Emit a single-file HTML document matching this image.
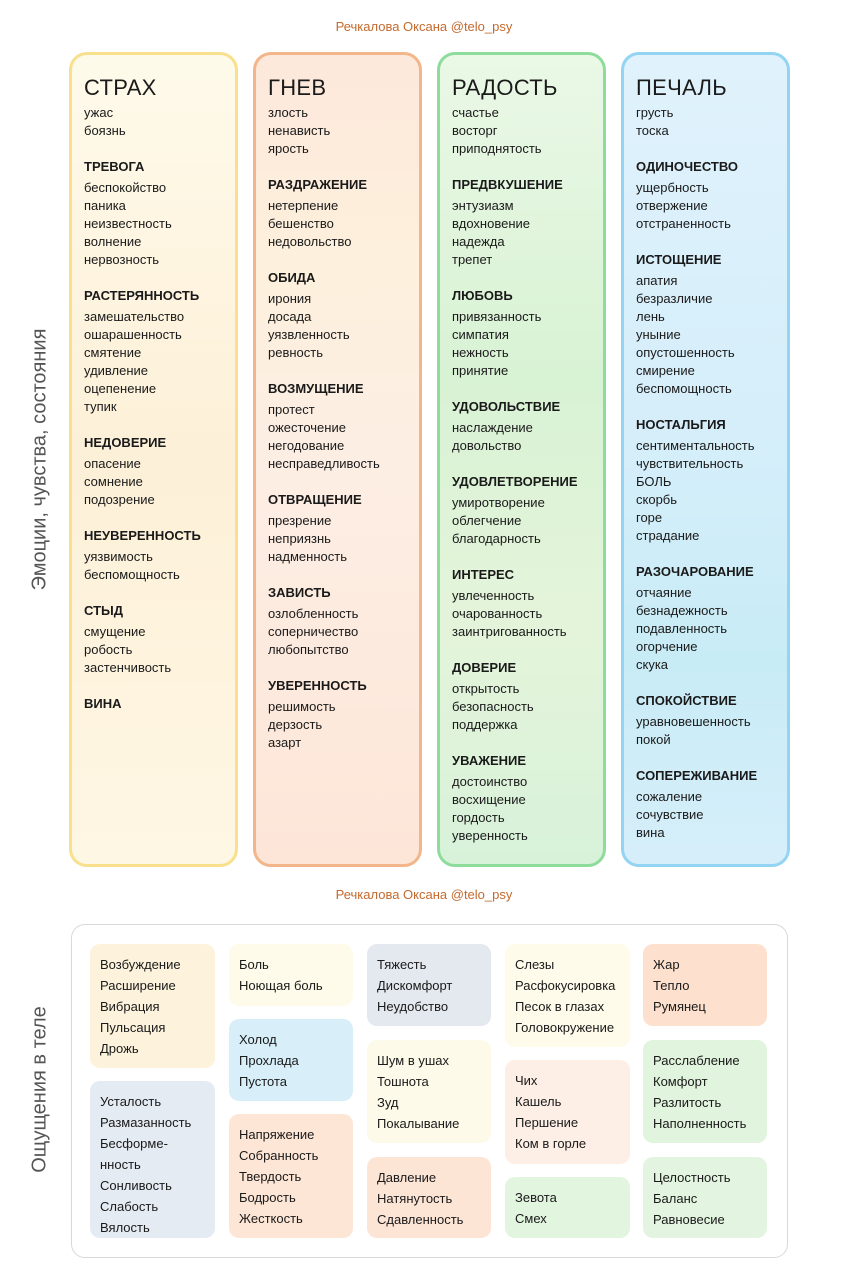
<!DOCTYPE html>
<html><head><meta charset="utf-8"><style>
body{margin:0;width:848px;height:1280px;background:#fff;position:relative;font-family:"Liberation Sans","DejaVu Sans",sans-serif;color:#1a1a1a;overflow:hidden}
.cr{position:absolute;left:0;width:848px;text-align:center;font-size:13px;color:#c46a2e}
.col{position:absolute;top:52px;width:163px;height:809px;border:3px solid;border-radius:18px;box-sizing:content-box}
.in{position:absolute;left:12px;top:21px;font-size:13px}
.t{font-size:22px;line-height:24px;margin-bottom:4px;letter-spacing:0.3px}
.i{line-height:18px}
.h{line-height:18px;margin-top:18px;margin-bottom:3px;font-weight:bold}
.vt{position:absolute;font-size:20px;color:#555;transform:rotate(-90deg);transform-origin:center;white-space:nowrap;text-align:center}
.frame{position:absolute;left:71px;top:924px;width:715px;height:332px;border:1px solid #d8d8d8;border-radius:14px}
.b{position:absolute;border-radius:10px;font-size:13px;line-height:21px;padding:10px 0 0 10px;box-sizing:border-box}
</style></head><body>
<div class="cr" style="top:19px">Речкалова Оксана @telo_psy</div>
<div class="vt" style="left:-110px;top:448px;width:300px">Эмоции, чувства, состояния</div>

<div class="col" style="left:69px;border-color:#f8e08c;background:linear-gradient(180deg,#fefaea,#fdf0d8 50%,#fef7e4)">
<div class="in"><div class="t">СТРАХ</div>
<div class="i">ужас</div><div class="i">боязнь</div>
<div class="h">ТРЕВОГА</div><div class="i">беспокойство</div><div class="i">паника</div><div class="i">неизвестность</div><div class="i">волнение</div><div class="i">нервозность</div>
<div class="h">РАСТЕРЯННОСТЬ</div><div class="i">замешательство</div><div class="i">ошарашенность</div><div class="i">смятение</div><div class="i">удивление</div><div class="i">оцепенение</div><div class="i">тупик</div>
<div class="h">НЕДОВЕРИЕ</div><div class="i">опасение</div><div class="i">сомнение</div><div class="i">подозрение</div>
<div class="h">НЕУВЕРЕННОСТЬ</div><div class="i">уязвимость</div><div class="i">беспомощность</div>
<div class="h">СТЫД</div><div class="i">смущение</div><div class="i">робость</div><div class="i">застенчивость</div>
<div class="h">ВИНА</div></div></div>

<div class="col" style="left:253px;border-color:#f2b68a;background:linear-gradient(180deg,#fde8dc,#fdf0dc 25%,#fdeee4 50%,#fde6d8)">
<div class="in"><div class="t">ГНЕВ</div>
<div class="i">злость</div><div class="i">ненависть</div><div class="i">ярость</div>
<div class="h">РАЗДРАЖЕНИЕ</div><div class="i">нетерпение</div><div class="i">бешенство</div><div class="i">недовольство</div>
<div class="h">ОБИДА</div><div class="i">ирония</div><div class="i">досада</div><div class="i">уязвленность</div><div class="i">ревность</div>
<div class="h">ВОЗМУЩЕНИЕ</div><div class="i">протест</div><div class="i">ожесточение</div><div class="i">негодование</div><div class="i">несправедливость</div>
<div class="h">ОТВРАЩЕНИЕ</div><div class="i">презрение</div><div class="i">неприязнь</div><div class="i">надменность</div>
<div class="h">ЗАВИСТЬ</div><div class="i">озлобленность</div><div class="i">соперничество</div><div class="i">любопытство</div>
<div class="h">УВЕРЕННОСТЬ</div><div class="i">решимость</div><div class="i">дерзость</div><div class="i">азарт</div></div></div>

<div class="col" style="left:437px;border-color:#8edc9c;background:linear-gradient(180deg,#eaf8e6,#d8f2d4 40%,#e4f4da 70%,#d8f2da)">
<div class="in"><div class="t">РАДОСТЬ</div>
<div class="i">счастье</div><div class="i">восторг</div><div class="i">приподнятость</div>
<div class="h">ПРЕДВКУШЕНИЕ</div><div class="i">энтузиазм</div><div class="i">вдохновение</div><div class="i">надежда</div><div class="i">трепет</div>
<div class="h">ЛЮБОВЬ</div><div class="i">привязанность</div><div class="i">симпатия</div><div class="i">нежность</div><div class="i">принятие</div>
<div class="h">УДОВОЛЬСТВИЕ</div><div class="i">наслаждение</div><div class="i">довольство</div>
<div class="h">УДОВЛЕТВОРЕНИЕ</div><div class="i">умиротворение</div><div class="i">облегчение</div><div class="i">благодарность</div>
<div class="h">ИНТЕРЕС</div><div class="i">увлеченность</div><div class="i">очарованность</div><div class="i">заинтригованность</div>
<div class="h">ДОВЕРИЕ</div><div class="i">открытость</div><div class="i">безопасность</div><div class="i">поддержка</div>
<div class="h">УВАЖЕНИЕ</div><div class="i">достоинство</div><div class="i">восхищение</div><div class="i">гордость</div><div class="i">уверенность</div></div></div>

<div class="col" style="left:621px;border-color:#92d4f2;background:linear-gradient(180deg,#e0f2fc,#d4eefa 50%,#c8ecf6 75%,#d6eefa)">
<div class="in"><div class="t">ПЕЧАЛЬ</div>
<div class="i">грусть</div><div class="i">тоска</div>
<div class="h">ОДИНОЧЕСТВО</div><div class="i">ущербность</div><div class="i">отвержение</div><div class="i">отстраненность</div>
<div class="h">ИСТОЩЕНИЕ</div><div class="i">апатия</div><div class="i">безразличие</div><div class="i">лень</div><div class="i">уныние</div><div class="i">опустошенность</div><div class="i">смирение</div><div class="i">беспомощность</div>
<div class="h">НОСТАЛЬГИЯ</div><div class="i">сентиментальность</div><div class="i">чувствительность</div><div class="i">БОЛЬ</div><div class="i">скорбь</div><div class="i">горе</div><div class="i">страдание</div>
<div class="h">РАЗОЧАРОВАНИЕ</div><div class="i">отчаяние</div><div class="i">безнадежность</div><div class="i">подавленность</div><div class="i">огорчение</div><div class="i">скука</div>
<div class="h">СПОКОЙСТВИЕ</div><div class="i">уравновешенность</div><div class="i">покой</div>
<div class="h">СОПЕРЕЖИВАНИЕ</div><div class="i">сожаление</div><div class="i">сочувствие</div><div class="i">вина</div></div></div>

<div class="cr" style="top:887px">Речкалова Оксана @telo_psy</div>
<div class="vt" style="left:-60px;top:1078px;width:200px">Ощущения в теле</div>
<div class="frame"></div>

<div class="b" style="left:90px;top:944px;width:125px;height:124px;background:#fdf3dc">Возбуждение<br>Расширение<br>Вибрация<br>Пульсация<br>Дрожь</div>
<div class="b" style="left:90px;top:1081px;width:125px;height:157px;background:#e5ebf2">Усталость<br>Размазанность<br>Бесформе-<br>нность<br>Сонливость<br>Слабость<br>Вялость</div>
<div class="b" style="left:229px;top:944px;width:124px;height:62px;background:#fefbea">Боль<br>Ноющая боль</div>
<div class="b" style="left:229px;top:1019px;width:124px;height:82px;background:#d8eff9">Холод<br>Прохлада<br>Пустота</div>
<div class="b" style="left:229px;top:1114px;width:124px;height:124px;background:#fde6d6">Напряжение<br>Собранность<br>Твердость<br>Бодрость<br>Жесткость</div>
<div class="b" style="left:367px;top:944px;width:124px;height:82px;background:#e4e9f0">Тяжесть<br>Дискомфорт<br>Неудобство</div>
<div class="b" style="left:367px;top:1040px;width:124px;height:103px;background:#fefae9">Шум в ушах<br>Тошнота<br>Зуд<br>Покалывание</div>
<div class="b" style="left:367px;top:1157px;width:124px;height:81px;background:#fde5d6">Давление<br>Натянутость<br>Сдавленность</div>
<div class="b" style="left:505px;top:944px;width:125px;height:103px;background:#fefbeb">Слезы<br>Расфокусировка<br>Песок в глазах<br>Головокружение</div>
<div class="b" style="left:505px;top:1060px;width:125px;height:104px;background:#fdefe6">Чих<br>Кашель<br>Першение<br>Ком в горле</div>
<div class="b" style="left:505px;top:1177px;width:125px;height:61px;background:#e2f5df">Зевота<br>Смех</div>
<div class="b" style="left:643px;top:944px;width:124px;height:82px;background:#fde1ce">Жар<br>Тепло<br>Румянец</div>
<div class="b" style="left:643px;top:1040px;width:124px;height:103px;background:#e1f4dd">Расслабление<br>Комфорт<br>Разлитость<br>Наполненность</div>
<div class="b" style="left:643px;top:1157px;width:124px;height:81px;background:#e3f5e0">Целостность<br>Баланс<br>Равновесие</div>
</body></html>
